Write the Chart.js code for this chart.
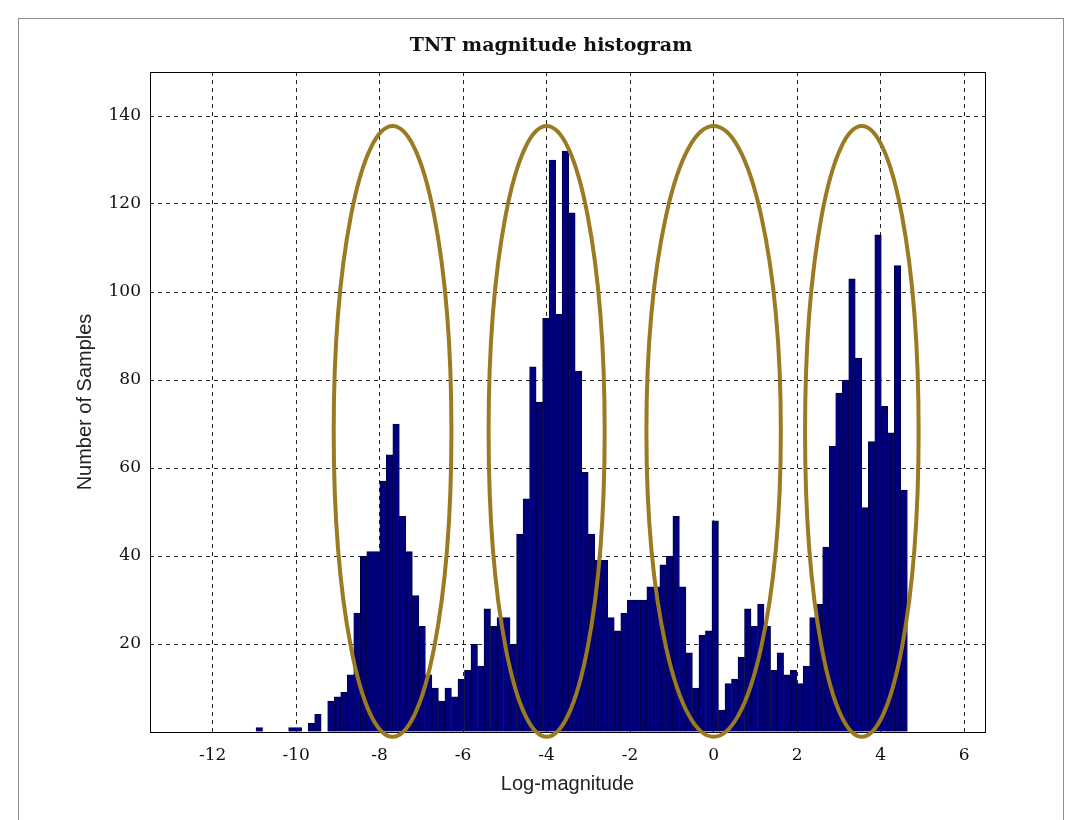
<!DOCTYPE html>
<html>
<head>
<meta charset="utf-8">
<script src="https://cdn.jsdelivr.net/npm/chart.js@4"></script>
<style>
  html, body { margin: 0; padding: 0; background: #fff; }
  #wrap { position: relative; width: 1075px; height: 820px; overflow: hidden; }
  #frame { position: absolute; left: 18px; top: 18px; width: 1044px; height: 830px; border: 1px solid #8c8c8c; }
  canvas { position: absolute; left: 0; top: 0; }
</style>
</head>
<body>
<div id="wrap">
  <div id="frame"></div>
  <canvas id="tnt_hist" width="1075" height="820"></canvas>
</div>
<script>
// histogram: 100 bins starting at binStart
const binStart = -10.96;
const binWidth = 0.156;
const counts = [
  1, 0, 0, 0, 0, 1, 1, 0, 2, 4,
  0, 7, 8, 9, 13, 27, 40, 41, 41, 57,
  63, 70, 49, 41, 31, 24, 13, 10, 7, 10,
  8, 12, 14, 20, 15, 28, 24, 26, 26, 20,
  45, 53, 83, 75, 94, 130, 95, 132, 118, 82,
  59, 45, 39, 39, 26, 23, 27, 30, 30, 30,
  33, 33, 38, 40, 49, 33, 18, 10, 22, 23,
  48, 5, 11, 12, 17, 28, 24, 29, 24, 14,
  18, 13, 14, 11, 15, 26, 29, 42, 65, 77,
  80, 103, 85, 51, 66, 113, 74, 68, 106, 55
];
const xTicks = [-12, -10, -8, -6, -4, -2, 0, 2, 4, 6];
const yTicks = [0, 20, 40, 60, 80, 100, 120, 140];

// highlighted clusters (data units)
const ellipseCenters = [-7.69, -4.0, 0.0, 3.55];
const ellipseHalfWidths = [1.41, 1.39, 1.61, 1.36];
const ellipseMid = 68.3;
const ellipseHalfHeight = 69.4;

const points = counts.map((c, i) => ({ x: binStart + (i + 0.5) * binWidth, y: c }));

const serif = '"DejaVu Serif", "Liberation Serif", serif';
const sans = '"Liberation Sans", Arial, sans-serif';

const overlay = {
  id: 'overlay',
  afterDraw(chart) {
    const ctx = chart.ctx;
    const a = chart.chartArea;
    const xs = chart.scales.x, ys = chart.scales.y;
    ctx.save();
    // axes box
    ctx.strokeStyle = '#000';
    ctx.lineWidth = 1;
    ctx.strokeRect(Math.round(a.left) + 0.5, Math.round(a.top) + 0.5,
      Math.round(a.right - a.left), Math.round(a.bottom - a.top));
    // ellipses
    ctx.strokeStyle = '#9a7b22';
    ctx.lineWidth = 4;
    ellipseCenters.forEach((c, i) => {
      const cx = xs.getPixelForValue(c);
      const rx = Math.abs(xs.getPixelForValue(c + ellipseHalfWidths[i]) - cx);
      const cy = ys.getPixelForValue(ellipseMid);
      const ry = Math.abs(ys.getPixelForValue(ellipseMid + ellipseHalfHeight) - cy);
      ctx.beginPath();
      ctx.ellipse(cx, cy, rx, ry, 0, 0, Math.PI * 2);
      ctx.stroke();
    });
    // title
    ctx.fillStyle = '#111';
    ctx.font = 'bold 19px ' + serif;
    ctx.textAlign = 'center';
    ctx.textBaseline = 'middle';
    ctx.fillText('TNT magnitude histogram', 551, 46);
    ctx.restore();
  }
};

new Chart(
  document.getElementById('tnt_hist'),
  {
    type: 'bar',
    data: {
      datasets: [
        {
          label: 'Number of Samples',
          data: points,
          backgroundColor: '#00007c',
          borderColor: '#000035',
          borderWidth: 0.8,
          borderSkipped: 'bottom',
          barPercentage: 1,
          categoryPercentage: 1
        }
      ]
    },
    options: {
      responsive: false,
      animation: false,
      layout: { padding: { left: 60, right: 90, top: 72, bottom: 20 } },
      plugins: {
        legend: { display: false },
        tooltip: { enabled: false }
      },
      scales: {
        x: {
          type: 'linear',
          min: -13.5,
          max: 6.5,
          offset: false,
          afterBuildTicks: s => { s.ticks = xTicks.map(v => ({ value: v })); },
          afterFit: s => { s.height = 68; },
          grid: { offset: false, color: '#222', lineWidth: 1, drawTicks: false },
          border: { display: false, dash: [4, 4] },
          ticks: { padding: 13, color: '#111', font: { family: serif, size: 17 }, maxRotation: 0 },
          title: { display: true, text: 'Log-magnitude', color: '#222', font: { family: sans, size: 20 }, padding: { top: 0, bottom: 4 } }
        },
        y: {
          min: 0,
          max: 150,
          afterBuildTicks: s => { s.ticks = yTicks.map(v => ({ value: v })); },
          afterFit: s => { s.width = 90; },
          grid: {
            color: ctx => ctx.tick && ctx.tick.value === 0 ? 'rgba(0,0,0,0)' : '#222',
            lineWidth: 1,
            drawTicks: false
          },
          border: { display: false, dash: [4, 4] },
          ticks: {
            padding: 9,
            color: '#111',
            font: { family: serif, size: 17 },
            callback: v => (v === 0 ? '' : v)
          },
          title: { display: true, text: 'Number of Samples', color: '#222', font: { family: sans, size: 20 }, padding: { top: 13, bottom: 0 } }
        }
      }
    },
    plugins: [overlay]
  }
);
</script>
</body>
</html>
